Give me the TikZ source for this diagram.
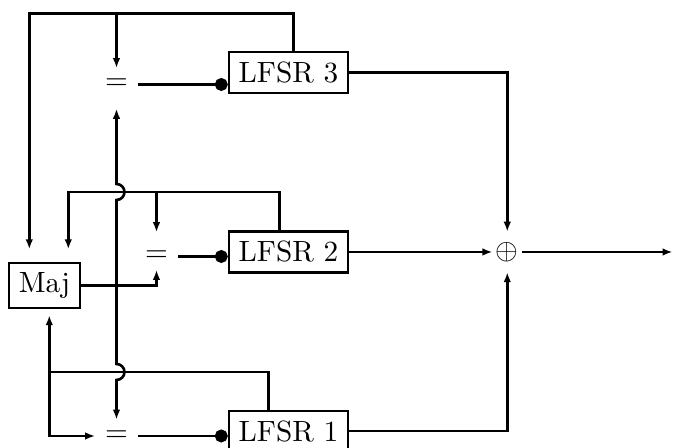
\documentclass[tikz,border=0pt]{standalone}
\usetikzlibrary{arrows.meta}

\tikzset{
  box/.style={draw, thick, inner sep=3.33pt},
  eqnode/.style={inner sep=0pt, minimum width=0.5cm, minimum height=0.38cm},
  xornode/.style={inner xsep=1pt, inner ysep=3.4pt},
  wire/.style={line width=0.9pt},
  clk/.style={-{Circle[length=4.4pt]}},
}

\begin{document}
\begin{tikzpicture}[x=0.12cm, y=0.12cm, >={Latex[length=3.4pt,width=2.6pt]}]

\useasboundingbox (0,0) rectangle (67.3,44.8);

\node[box] (l3) at (28.85,37.57) {LFSR 3};
\node[box] (l2) at (28.85,19.6) {LFSR 2};
\node[box] (l1) at (28.85,1.68) {LFSR 1};
\node[box] (maj) at (4.45,16.25) {Maj};

\node[eqnode] (eq3) at (11.65,36.35) {$=$};
\node[eqnode] (eq2) at (15.65,19.15) {$=$};
\node[eqnode] (eq1) at (11.65,1.2) {$=$};

\node[xornode] (xor) at (50.73,19.6) {$\oplus$};
\coordinate (out) at (67.25,19.6);

\coordinate (j3) at (11.65,43.47);
\coordinate (j2) at (15.65,25.6);
\coordinate (j1) at (4.93,7.6);
\coordinate (jm) at (maj -| eq3);

% feedback of LFSR 3
\draw[wire,->,shorten >=4.2pt] (l3.north -| 29.33,0) |- (j3) -| (maj.north -| 2.93,0);
\draw[wire,->] (j3) -- (eq3);

% feedback of LFSR 2
\draw[wire,->,shorten >=4.2pt] (l2.north -| 27.93,0) |- (j2) -| (maj.north -| 6.83,0);
\draw[wire,->,shorten >=2.7pt] (j2) -- (eq2);

% feedback of LFSR 1
\draw[wire] (l1.north -| 26.83,0) |- (j1);
\draw[wire,->,shorten >=2pt] (j1) -- (maj.south -| j1);
\draw[wire,->] (j1) |- (eq1);

% majority output
\draw[wire,->,shorten >=-1pt] (maj) -| (eq2);
\draw[wire,->,shorten >=2.7pt] (jm) -- (11.65,24.8) arc (-90:90:0.8) -- (eq3);
\draw[wire,->] (jm) -- (11.65,8.4) arc (90:-90:0.8) -- (eq1);

% clock inputs
\foreach \i in {1,2,3}
  \draw[wire,clk] (eq\i) -- (eq\i -| l\i.west);

% outputs
\draw[wire,->] (l3) -| (xor);
\draw[wire,->] (l2) -- (xor);
\draw[wire,->] (l1) -| (xor);
\draw[wire,->] (xor) -- (out);

\end{tikzpicture}
\end{document}
